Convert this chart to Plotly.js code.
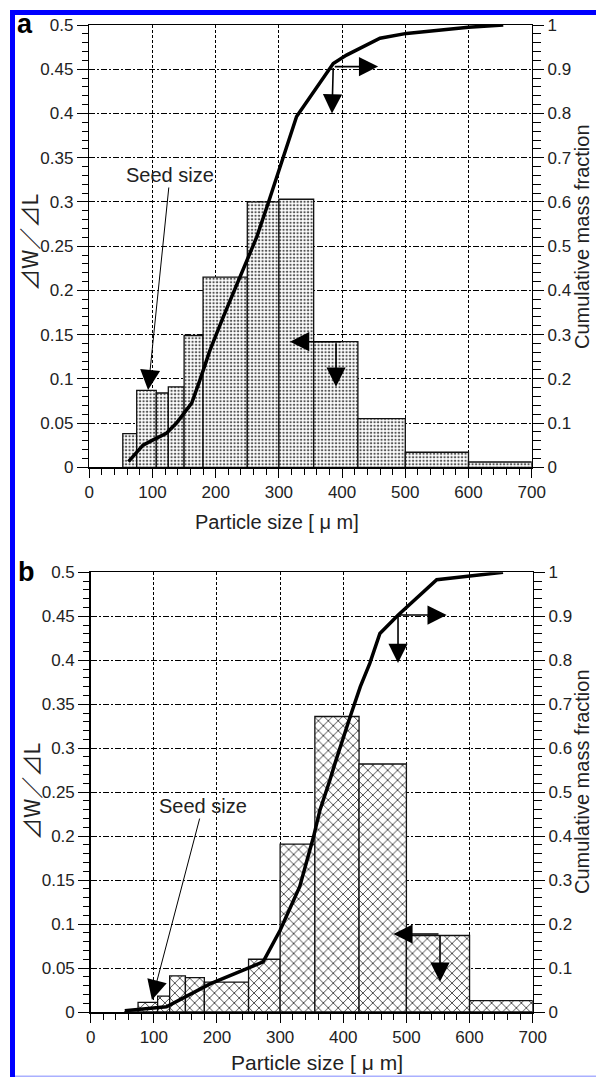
<!DOCTYPE html>
<html>
<head>
<meta charset="utf-8">
<script src="https://cdn.plot.ly/plotly-3.0.1.min.js"></script>
<style>
  html, body { margin: 0; padding: 0; background: #ffffff; }
  #chart { width: 596px; height: 1077px; }
</style>
</head>
<body>
<div id="chart"></div>
<script>
// ---- data ----
const sieveEdges = [53, 75, 106, 125, 150, 180, 250, 300, 355, 425, 500, 600, 700];
const densityA = [0.038, 0.087, 0.084, 0.091, 0.149, 0.215, 0.300, 0.303, 0.142, 0.055, 0.017, 0.006];
const densityB = [0.000, 0.011, 0.018, 0.041, 0.039, 0.034, 0.060, 0.191, 0.336, 0.282, 0.087, 0.013];
const cumSizeA = [62, 85, 101, 122, 138, 162, 175, 191, 212, 238, 265, 283, 302, 328, 386, 407, 460, 502, 600, 655];
const cumFracA = [0.013, 0.050, 0.062, 0.077, 0.100, 0.145, 0.197, 0.265, 0.340, 0.431, 0.521, 0.597, 0.680, 0.793, 0.913, 0.932, 0.970, 0.981, 0.995, 1.000];
const cumSizeB = [54, 120, 189, 273, 300, 331, 353, 363, 379, 387, 411, 427, 442, 458, 487, 548, 653];
const cumFracB = [0.003, 0.012, 0.064, 0.114, 0.186, 0.285, 0.399, 0.459, 0.528, 0.566, 0.672, 0.740, 0.793, 0.861, 0.903, 0.983, 1.000];
const sizeTicks = [0, 100, 200, 300, 400, 500, 600, 700];
const xTitle = "Particle size [ μ m]";
const yTitle = "⊿W／⊿L";
const y2Title = "Cumulative mass fraction";
const seedLabel = "Seed size";

// bar geometry from the sieve edges
const centers = sieveEdges.slice(0, -1).map((e, i) => (e + sieveEdges[i + 1]) / 2);
const widths = sieveEdges.slice(0, -1).map((e, i) => sieveEdges[i + 1] - e);

const W = 596, H = 1077;
const px = v => v / W;
const py = v => 1 - v / H;

const FONT = "Liberation Sans, Arial, sans-serif";

const traces = [
  {
    type: "bar", x: centers, y: densityA, width: widths, xaxis: "x", yaxis: "y",
    marker: { color: "#ffffff", line: { color: "#111", width: 1.3 },
      pattern: { shape: ".", size: 3.5, solidity: 0.35, fgcolor: "#555", bgcolor: "#ffffff" } },
    hoverinfo: "skip"
  },
  {
    type: "scatter", mode: "lines", x: cumSizeA, y: cumFracA, xaxis: "x", yaxis: "y2",
    line: { color: "#000", width: 3.5 }, hoverinfo: "skip"
  },
  {
    type: "bar", x: centers, y: densityB, width: widths, xaxis: "x2", yaxis: "y3",
    marker: { color: "#ffffff", line: { color: "#111", width: 1.3 },
      pattern: { shape: "x", size: 7, solidity: 0.2, fgcolor: "#111", bgcolor: "#ffffff" } },
    hoverinfo: "skip"
  },
  {
    type: "scatter", mode: "lines", x: cumSizeB, y: cumFracB, xaxis: "x2", yaxis: "y4",
    line: { color: "#000", width: 3.5 }, hoverinfo: "skip"
  }
];

function xAxis(domain, anchor) {
  return {
    domain: domain, anchor: anchor, range: [0, 700], tickvals: sizeTicks,
    ticks: "outside", ticklen: 9, tickwidth: 1, tickcolor: "#000",
    minor: { ticks: "outside", ticklen: 6, dtick: 20, tick0: 0, tickcolor: "#000", tickwidth: 1, showgrid: false },
    showline: true, linecolor: "#000", linewidth: 1.5, mirror: true,
    showgrid: true, gridcolor: "#000", gridwidth: 1, griddash: "3px,2px",
    zeroline: false, tickfont: { family: FONT, size: 17, color: "#222" }, fixedrange: true
  };
}
function yLeft(domain, anchor) {
  return {
    domain: domain, anchor: anchor, range: [0, 0.5], tick0: 0, dtick: 0.05,
    ticks: "outside", ticklen: 11, tickwidth: 1, tickcolor: "#000",
    minor: { ticks: "outside", ticklen: 6, dtick: 0.01, tick0: 0, tickcolor: "#000", tickwidth: 1, showgrid: false },
    showline: true, linecolor: "#000", linewidth: 1.5,
    showgrid: true, gridcolor: "#000", gridwidth: 1, griddash: "6px,2px,2px,2px",
    zeroline: false, tickfont: { family: FONT, size: 17, color: "#222" }, fixedrange: true
  };
}
function yRight(over, anchor) {
  return {
    overlaying: over, anchor: anchor, side: "right", range: [0, 1], tick0: 0, dtick: 0.1,
    ticks: "outside", ticklen: 11, tickwidth: 1, tickcolor: "#000",
    minor: { ticks: "outside", ticklen: 8, dtick: 0.02, tick0: 0, tickcolor: "#000", tickwidth: 1, showgrid: false },
    showline: true, linecolor: "#000", linewidth: 1.5, showgrid: false,
    zeroline: false, tickfont: { family: FONT, size: 17, color: "#222" }, fixedrange: true
  };
}

function arrow(x, y, ax, ay, xr, yr) {
  return { x: x, y: y, ax: ax, ay: ay, xref: xr, yref: yr, axref: xr, ayref: yr,
    text: "", showarrow: true, arrowhead: 2, arrowsize: 2.4, arrowwidth: 1.6, arrowcolor: "#000" };
}
function label(text, x, y, size, angle, extra) {
  return Object.assign({ text: text, x: px(x), y: py(y), xref: "paper", yref: "paper",
    showarrow: false, textangle: angle || 0, xanchor: "center", yanchor: "middle",
    font: { family: FONT, size: size, color: "#222" } }, extra || {});
}

const annotations = [
  label("<b>a</b>", 25, 24, 27, 0, { font: { family: FONT, size: 27, color: "#000" } }),
  label("<b>b</b>", 26, 572, 27, 0, { font: { family: FONT, size: 27, color: "#000" } }),
  label(xTitle, 277, 522, 20),
  label(xTitle, 317, 1062, 21),
  label(yTitle, 28, 243, 22, -90, { font: { family: "Noto Sans CJK JP, sans-serif", size: 22, color: "#222" } }),
  label(yTitle, 30, 791, 22, -90, { font: { family: "Noto Sans CJK JP, sans-serif", size: 22, color: "#222" } }),
  label(y2Title, 582, 237, 20, -90),
  label(y2Title, 582, 782, 20, -90),
  { text: seedLabel, x: 93, y: 0.0874, xref: "x", yref: "y", ax: 22, ay: -215,
    showarrow: true, arrowhead: 2, arrowsize: 4, arrowwidth: 1, arrowcolor: "#000",
    font: { family: FONT, size: 20, color: "#222" } },
  { text: seedLabel, x: 97, y: 0.0136, xref: "x2", yref: "y3", ax: 51, ay: -194,
    showarrow: true, arrowhead: 2, arrowsize: 4, arrowwidth: 1, arrowcolor: "#000",
    font: { family: FONT, size: 20, color: "#222" } },
  // panel a arrows
  arrow(457, 0.453, 386, 0.453, "x", "y"),
  arrow(384, 0.400, 386, 0.453, "x", "y"),
  arrow(317.6, 0.142, 401, 0.142, "x", "y"),
  arrow(390.4, 0.091, 390.4, 0.142, "x", "y"),
  // panel b arrows
  arrow(563.8, 0.4514, 486.7, 0.4514, "x2", "y3"),
  arrow(486.7, 0.397, 486.7, 0.4514, "x2", "y3"),
  arrow(479.3, 0.0887, 553.2, 0.0887, "x2", "y3"),
  arrow(553.2, 0.0345, 553.2, 0.0887, "x2", "y3")
];

const shapes = [
  { type: "rect", xref: "paper", yref: "paper", x0: px(10), x1: 1, y0: py(15), y1: py(10),
    fillcolor: "#0000ff", line: { width: 0 } },
  { type: "rect", xref: "paper", yref: "paper", x0: px(10), x1: px(15), y0: 0, y1: py(10),
    fillcolor: "#0000ff", line: { width: 0 } },
  { type: "rect", xref: "paper", yref: "paper", x0: px(15), x1: 1, y0: 0, y1: 1.6 / H,
    fillcolor: "#aab0ff", line: { width: 0 } }
];

const layout = {
  width: W, height: H,
  margin: { l: 0, r: 0, t: 0, b: 0, pad: 0 },
  paper_bgcolor: "#ffffff", plot_bgcolor: "#ffffff",
  showlegend: false, barmode: "overlay", bargap: 0,
  font: { family: FONT, size: 17, color: "#222" },
  xaxis: xAxis([px(89.3), px(531.7)], "y"),
  yaxis: yLeft([py(467.3), py(25)], "x"),
  yaxis2: yRight("y", "x"),
  xaxis2: xAxis([px(90.7), px(532.7)], "y3"),
  yaxis3: yLeft([py(1012), py(572.3)], "x2"),
  yaxis4: yRight("y3", "x2"),
  annotations: annotations,
  shapes: shapes
};

Plotly.newPlot("chart", traces, layout, { displayModeBar: false, staticPlot: true });
</script>
</body>
</html>
